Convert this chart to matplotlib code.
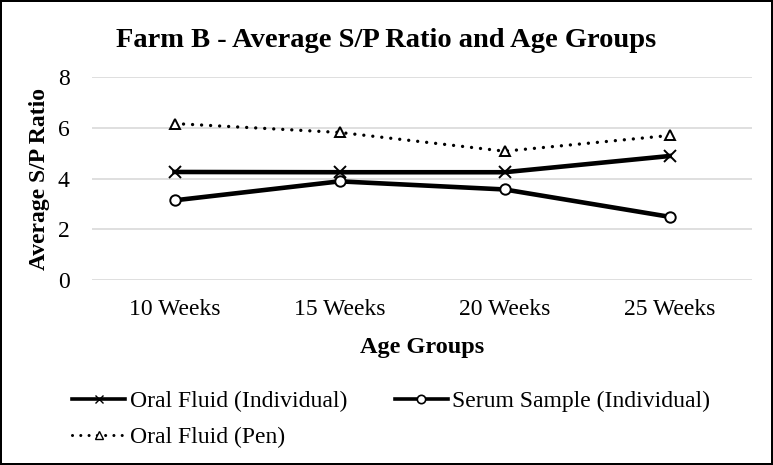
import matplotlib.pyplot as plt
from matplotlib.lines import Line2D

plt.rcParams['font.family'] = ['Liberation Serif', 'DejaVu Serif']

# Datos
grupos = ["10 Weeks", "15 Weeks", "20 Weeks", "25 Weeks"]
oral_individual = [4.26, 4.25, 4.25, 4.89]
suero_individual = [3.14, 3.89, 3.57, 2.49]
oral_corral = [6.17, 5.82, 5.08, 5.70]

punteado = (0, (0.01, 2.7))

fig = plt.figure(figsize=(7.73, 4.65), dpi=100, edgecolor="black", linewidth=1.5)
ax = fig.add_axes([0.119, 0.398, 0.854, 0.436])

x = range(len(grupos))
ax.plot(x, oral_individual, color="black", linewidth=3.3,
        marker="x", markersize=8, markeredgewidth=1.4)
ax.plot(x, suero_individual, color="black", linewidth=3.3,
        marker="o", markersize=7.5, markerfacecolor="white", markeredgewidth=1.4)
ax.plot(x, oral_corral, color="black", linewidth=2.4, linestyle=punteado, dash_capstyle="round",
        marker="^", markersize=7.5, markerfacecolor="white", markeredgewidth=1.4)

ax.set_xlim(-0.5, 3.5)
ax.set_ylim(0, 8)
ax.set_yticks([0, 2, 4, 6, 8])
ax.set_xticks(list(x))
ax.set_xticklabels(grupos)
ax.tick_params(axis="x", length=0, labelsize=17, pad=14)
ax.tick_params(axis="y", length=0, labelsize=17, pad=16)
ax.grid(axis="y", color="#d9d9d9", linewidth=1.2)
ax.set_axisbelow(True)
for s in ax.spines.values():
    s.set_visible(False)

ax.set_xlabel("Age Groups", fontsize=17.5, fontweight="bold", labelpad=12)
ax.set_ylabel("Average S/P Ratio", fontsize=17, fontweight="bold", labelpad=6)
fig.text(0.5, 0.912, "Farm B - Average S/P Ratio and Age Groups", ha="center", va="center",
         fontsize=20.5, fontweight="bold")

# Leyenda con marcadores pequeños, orden por filas
h1 = Line2D([], [], color="black", linewidth=2.6, marker="x", markersize=6, markeredgewidth=1.0)
h2 = Line2D([], [], color="black", linewidth=2.6, marker="o", markersize=6,
            markerfacecolor="white", markeredgewidth=1.2)
h3 = Line2D([], [], color="black", linewidth=2.2, linestyle=punteado, dash_capstyle="round",
            marker="^", markersize=6, markerfacecolor="white", markeredgewidth=1.0)
fig.legend([h1, h3, h2], ["Oral Fluid (Individual)", "Oral Fluid (Pen)", "Serum Sample (Individual)"],
           loc="center left", bbox_to_anchor=(0.078, 0.098), ncol=2, frameon=False,
           fontsize=17, handlelength=2.25, columnspacing=2.0, handletextpad=0.2, labelspacing=0.6,
           borderpad=0, bbox_transform=fig.transFigure)

fig.savefig("out.png", dpi=100, edgecolor=fig.get_edgecolor())
